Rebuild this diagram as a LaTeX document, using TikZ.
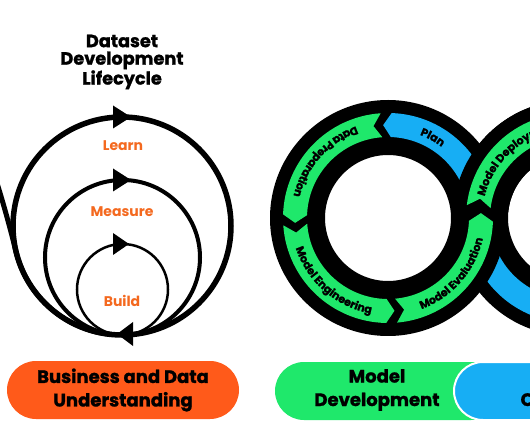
\documentclass[tikz,border=0pt]{standalone}
\usepackage{fontspec}
\setmainfont{Poppins}
\newfontfamily\heavyfont{Poppins}[BoldFeatures={FakeBold=1.3}]
\usetikzlibrary{decorations.text}
\definecolor{pillorange}{HTML}{FF5A1A}
\definecolor{lblorange}{HTML}{F4691F}
\definecolor{bandgreen}{HTML}{1FE86B}
\definecolor{bandblue}{HTML}{17AEF4}
\newcommand{\bandfont}{\heavyfont\fontsize{11}{11}\selectfont\bfseries}
\newcommand{\bandseg}[4]{%
  \fill[#4] (#1:105pt) arc[start angle=#1, end angle=#2, radius=105pt] -- ({#2+#3}:93pt) -- (#2:81pt) arc[start angle=#2, end angle=#1, radius=81pt] -- ({#1+#3}:93pt) -- cycle;}
\newcommand{\ringbase}{\fill[black, even odd rule] (0,0) circle[radius=118pt] (0,0) circle[radius=63pt];}
\newcommand{\arctext}[5]{%
  \path[decorate, decoration={text along path, text align=#4, text={|\bandfont|#5}}] (#1:#3) arc[start angle=#1, end angle=#2, radius=#3];}
\tikzset{
  loopline/.style={draw=black},
  arrowtri/.style={fill=black},
  steplabel/.style={text=lblorange, font=\fontsize{14}{14}\selectfont\bfseries},
  titletext/.style={align=center, font=\heavyfont\fontsize{17.7}{17.5}\selectfont\bfseries},
  pilltext/.style={align=center, font=\heavyfont\fontsize{18}{23.5}\selectfont\bfseries},
}
\begin{document}
\begin{tikzpicture}[x=1pt,y=1pt]
\useasboundingbox (0,0) rectangle (530,442);
\clip (0,0) rectangle (530,442);
\fill[white] (0,0) rectangle (530,442);

% ---------- left: dataset development lifecycle ----------
\node[titletext] (title) at (122,380) {Dataset\\Development\\Lifecycle};

\draw[loopline, line width=5.5pt] (122,216) circle[radius=109pt];
\draw[loopline, line width=4pt] (122.5,184.5) circle[radius=77.5pt];
\draw[loopline, line width=2.5pt] (122.5,152.5) circle[radius=45.5pt];
\draw[loopline, line width=5pt] (-4,262) .. controls (3,240) and (10.1,214.3) .. (16.1,190) arc[start angle=193.8, end angle=265, radius=109pt];

\fill[arrowtri] (113,336.5) -- (131,325) -- (113,313.5) -- cycle;
\fill[arrowtri] (113,273.5) -- (131,262) -- (113,250.5) -- cycle;
\fill[arrowtri] (113,209) -- (129,198) -- (113,187) -- cycle;
\fill[arrowtri] (117,108) -- (133,120) -- (133,96) -- cycle;

\node[steplabel] (learn) at (123,296) {Learn};
\node[steplabel] (measure) at (122,230) {Measure};
\node[steplabel] (build) at (122,141) {Build};

\fill[pillorange, rounded corners=29pt] (7,23) rectangle (239,81);
\node[pilltext] (business) at (123,52) {Business and Data\\Understanding};

% ---------- right: infinity loop ----------
\begin{scope}[shift={(571,224)}]
  \ringbase
  \bandseg{330}{203}{0}{bandblue}
  \bandseg{173}{40}{-5}{bandgreen}
  \arctext{166}{40}{89pt}{left}{Model Deployment}
\end{scope}

\begin{scope}[shift={(388,224)}]
  \ringbase
  \bandseg{15}{88}{5}{bandblue}
  \bandseg{94}{178}{5}{bandgreen}
  \bandseg{184}{269}{5}{bandgreen}
  \bandseg{275}{358}{5}{bandgreen}
  \arctext{86}{36}{89pt}{center}{Plan}
  \arctext{98}{178}{97pt}{center}{Data Preparation}
  \arctext{188}{270}{97pt}{center}{Model Engineering}
  \arctext{280}{358}{97pt}{center}{Model Evaluation}
\end{scope}

\begin{scope}
  \clip (440,230) rectangle (530,442);
  \begin{scope}[shift={(571,224)}]
    \ringbase
    \bandseg{173}{40}{-5}{bandgreen}
    \arctext{166}{40}{89pt}{left}{Model Deployment}
  \end{scope}
\end{scope}

% ---------- bottom pills ----------
\fill[bandgreen, rounded corners=29pt] (275,22) rectangle (500,80);
\node[pilltext] (modeldev) at (377,52) {Model\\Development};
\filldraw[fill=bandblue, draw=white, line width=2pt, rounded corners=29pt] (454,22) rectangle (620,80);
\node[pilltext, anchor=base west] (ops) at (517,36) {O};
\end{tikzpicture}
\end{document}
